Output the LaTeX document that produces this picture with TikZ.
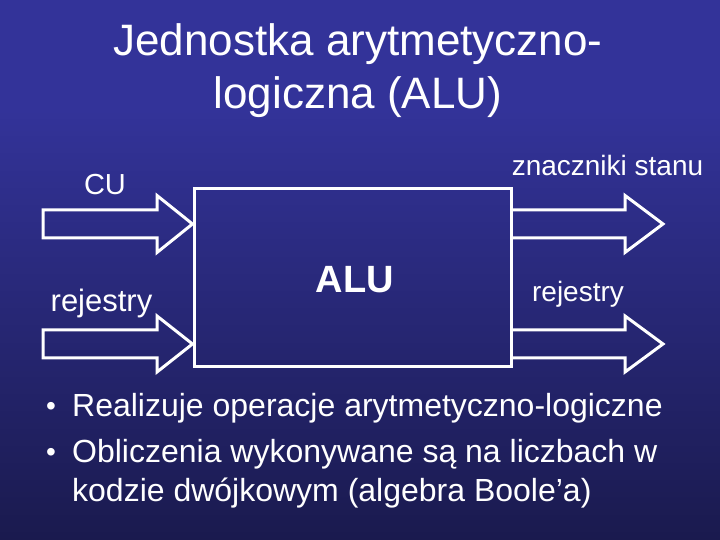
\documentclass[tikz,border=0pt]{standalone}
\usepackage{fontspec}
\setmainfont{Liberation Sans}
\definecolor{bgtop}{RGB}{51,51,153}
\definecolor{bgbot}{RGB}{26,26,78}
\tikzset{
  blockarrow/.style={draw=white, line width=3pt, line join=miter},
  alubox/.style={draw=white, line width=3pt, minimum width=317pt, minimum height=178pt, inner sep=0pt},
  lbl/.style={text=white, inner sep=0pt, anchor=base},
  bulletdot/.style={text=white, inner sep=0pt, anchor=base, font=\fontsize{28}{34}\selectfont},
}
\begin{document}
\begin{tikzpicture}[x=1pt,y=1pt]
\useasboundingbox (0,0) rectangle (720,540);
\fill[bgtop] (0,0) rectangle (720,540);
\shade[top color=bgtop, bottom color=bgbot] (0,0) rectangle (720,430);
% title
\node[lbl, font=\fontsize{44}{53}\selectfont] (title1) at (358,484) {Jednostka arytmetyczno-};
\node[lbl, font=\fontsize{44}{53}\selectfont] (title2) at (358,431) {logiczna (ALU)};
% ALU box
\node[alubox] (alu) at (352.5,262) {};
\node[lbl, font=\bfseries\fontsize{38}{46}\selectfont] (alut) at (355,247) {ALU};
% left arrows
\draw[blockarrow] (43,330) -- (157,330) -- (157,344.5) -- (alu.west |- 0,316) -- (157,287.5) -- (157,302) -- (43,302) -- cycle;
\draw[blockarrow] (43,210) -- (157,210) -- (157,224) -- (alu.west |- 0,196) -- (157,168) -- (157,182) -- (43,182) -- cycle;
% right arrows
\draw[blockarrow] (alu.east |- 0,330) -- (625,330) -- (625,344.5) -- (663,316) -- (625,287.5) -- (625,302) -- (alu.east |- 0,302);
\draw[blockarrow] (alu.east |- 0,210) -- (625,210) -- (625,224) -- (663,196) -- (625,168) -- (625,182) -- (alu.east |- 0,182);
% labels
\node[lbl, font=\fontsize{29}{35}\selectfont] (cu) at (105,345) {CU};
\node[lbl, font=\fontsize{31}{37}\selectfont] (rejl) at (101.5,228) {rejestry};
\node[lbl, font=\fontsize{28}{34}\selectfont] (znacz) at (607.5,364) {znaczniki stanu};
\node[lbl, font=\fontsize{28}{34}\selectfont] (rejr) at (578,238) {rejestry};
% bullets
\node[bulletdot] (d1) at (51,124.5) {•};
\node[lbl, anchor=base west, font=\fontsize{32}{38}\selectfont] (i1) at (72,123) {Realizuje operacje arytmetyczno-logiczne};
\node[bulletdot] (d2) at (51,78.5) {•};
\node[lbl, anchor=base west, font=\fontsize{32}{38}\selectfont] (i2a) at (72,77) {Obliczenia wykonywane są na liczbach w};
\node[lbl, anchor=base west, font=\fontsize{32}{38}\selectfont] (i2b) at (72,38) {kodzie dwójkowym (algebra Boole’a)};
\end{tikzpicture}
\end{document}
